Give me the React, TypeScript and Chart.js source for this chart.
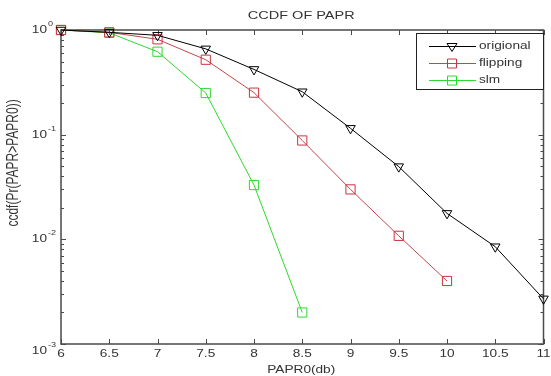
import React, { useEffect, useRef } from 'react';
import { Chart, registerables } from 'chart.js';

Chart.register(...registerables);

// ---- data ----
const papr0 = [6, 6.5, 7, 7.5, 8, 8.5, 9, 9.5, 10, 10.5, 11];
const original = [1.0, 0.95, 0.89, 0.66, 0.42, 0.257, 0.115, 0.0495, 0.0177, 0.0085, 0.0027];
const flipping = [1.0, 0.95, 0.815, 0.52, 0.252, 0.088, 0.03, 0.0108, 0.004];
const slm = [1.0, 0.94, 0.62, 0.25, 0.033, 0.002];
const seriesNames = ['origional', 'flipping', 'slm'];
const xTicks = [6, 6.5, 7, 7.5, 8, 8.5, 9, 9.5, 10, 10.5, 11];
const xTickLabels = ['6', '6.5', '7', '7.5', '8', '8.5', '9', '9.5', '10', '10.5', '11'];
const yDecades = [0, -1, -2, -3];
const titleText = 'CCDF OF PAPR';
const xLabel = 'PAPR0(db)';
const yLabel = 'ccdf(Pr(PAPR>PAPR0))';

const BLACK = '#000000';
const RED = '#d03040';
const RED_LINE = '#c04848';
const GREEN = '#2ed82e';
const AXIS = '#4a4a4a';
const TEXT = '#333333';
const FONT = '"Liberation Sans", Arial, sans-serif';
const SX = 1.3;

function drawText(ctx: CanvasRenderingContext2D, text: string, x: number, y: number, align: CanvasTextAlign, size: number, sx: number) {
  ctx.save();
  ctx.translate(x, y);
  ctx.scale(sx, 1);
  ctx.font = `${size}px ${FONT}`;
  ctx.textAlign = align;
  ctx.textBaseline = 'middle';
  ctx.fillStyle = TEXT;
  ctx.fillText(text, 0, 0);
  ctx.restore();
}

const matlabPlugin = {
  id: 'matlabAxes',
  beforeDatasetsDraw(chart: any) {
    const { ctx, chartArea: a, scales } = chart;
    const x = scales.x;
    const y = scales.y;
    ctx.save();
    ctx.strokeStyle = AXIS;
    ctx.lineWidth = 1.5;
    ctx.strokeRect(a.left, a.top, a.right - a.left, a.bottom - a.top);
    ctx.lineWidth = 1;
    ctx.beginPath();
    for (const v of xTicks) {
      const px = Math.round(x.getPixelForValue(v)) + 0.5;
      ctx.moveTo(px, a.bottom);
      ctx.lineTo(px, a.bottom - 5);
      ctx.moveTo(px, a.top);
      ctx.lineTo(px, a.top + 5);
    }
    for (const d of yDecades) {
      for (let m = 1; m <= 9; m++) {
        const v = m * Math.pow(10, d);
        if (v > 1.0000001 || v < 0.0009999) continue;
        const py = Math.round(y.getPixelForValue(v)) + 0.5;
        const len = m === 1 ? 5 : 3;
        ctx.moveTo(a.left, py);
        ctx.lineTo(a.left + len, py);
        ctx.moveTo(a.right, py);
        ctx.lineTo(a.right - len, py);
      }
    }
    ctx.stroke();
    ctx.restore();
  },
  afterDraw(chart: any) {
    const { ctx, chartArea: a, scales } = chart;
    const x = scales.x;
    const y = scales.y;
    const cx = (a.left + a.right) / 2;
    // title
    drawText(ctx, titleText, cx - 1, 16, 'center', 10, 1.45);
    // x tick labels
    xTicks.forEach((v, i) => {
      drawText(ctx, xTickLabels[i], x.getPixelForValue(v), a.bottom + 10, 'center', 10.5, SX);
    });
    // y tick labels 10^n
    yDecades.forEach((d) => {
      let py = y.getPixelForValue(Math.pow(10, d));
      if (d === -3) py += 7;
      drawText(ctx, '10', a.left - 14, py, 'right', 10.5, SX);
      drawText(ctx, String(d), a.left - 13, py - 6, 'left', 7, SX);
    });
    // axis titles
    drawText(ctx, xLabel, cx - 1, a.bottom + 26, 'center', 10.5, SX);
    ctx.save();
    ctx.translate(14, 163);
    ctx.rotate(-Math.PI / 2);
    ctx.scale(1, SX);
    ctx.font = `12px ${FONT}`;
    ctx.textAlign = 'center';
    ctx.textBaseline = 'middle';
    ctx.fillStyle = TEXT;
    ctx.fillText(yLabel, 0, 0);
    ctx.restore();

    // legend
    const lx = 416, ly = 33, lw = 127, lh = 56;
    ctx.save();
    ctx.fillStyle = '#ffffff';
    ctx.fillRect(lx, ly, lw, lh);
    ctx.strokeStyle = '#222222';
    ctx.lineWidth = 1;
    ctx.strokeRect(lx + 0.5, ly + 0.5, lw, lh);
    const colors = [BLACK, RED, GREEN];
    const lineColors = [BLACK, RED_LINE, GREEN];
    seriesNames.forEach((name, i) => {
      const ry = 46 + i * 17 + 0.5;
      ctx.strokeStyle = lineColors[i];
      ctx.lineWidth = 1;
      ctx.beginPath();
      ctx.moveTo(429, ry);
      ctx.lineTo(476, ry);
      ctx.stroke();
      ctx.strokeStyle = colors[i];
      ctx.beginPath();
      if (i === 0) {
        ctx.moveTo(452 - 5, ry - 3);
        ctx.lineTo(452 + 5, ry - 3);
        ctx.lineTo(452, ry + 5);
        ctx.closePath();
      } else {
        ctx.rect(452 - 4.5, ry - 4.5, 9, 9);
      }
      ctx.stroke();
      drawText(ctx, name, 479, ry, 'left', 10.5, SX);
    });
    ctx.restore();
  },
};

function pts(values: number[]) {
  return values.map((v, i) => ({ x: papr0[i], y: v }));
}

export default function App() {
  const ref = useRef<HTMLCanvasElement | null>(null);
  useEffect(() => {
    if (!ref.current) return;
    const chart = new Chart(ref.current, {
      type: 'line',
      data: {
        datasets: [
          {
            label: seriesNames[0],
            data: pts(original),
            borderColor: BLACK,
            borderWidth: 1,
            pointStyle: 'triangle',
            rotation: 180,
            pointRadius: 5.5,
            pointBorderColor: BLACK,
            pointBackgroundColor: 'rgba(0,0,0,0)',
            pointBorderWidth: 1,
            tension: 0,
            clip: false,
          } as any,
          {
            label: seriesNames[1],
            data: pts(flipping),
            borderColor: RED_LINE,
            borderWidth: 1,
            pointStyle: 'rect',
            pointRadius: 6.5,
            pointBorderColor: RED,
            pointBackgroundColor: 'rgba(0,0,0,0)',
            pointBorderWidth: 1,
            tension: 0,
            clip: false,
          } as any,
          {
            label: seriesNames[2],
            data: pts(slm),
            borderColor: GREEN,
            borderWidth: 1,
            pointStyle: 'rect',
            pointRadius: 6.5,
            pointBorderColor: GREEN,
            pointBackgroundColor: 'rgba(0,0,0,0)',
            pointBorderWidth: 1,
            tension: 0,
            clip: false,
          } as any,
        ],
      },
      options: {
        animation: false,
        responsive: false,
        devicePixelRatio: 1,
        events: [],
        layout: { padding: { top: 30, right: 5, left: 0, bottom: 0 } },
        plugins: { legend: { display: false }, title: { display: false }, tooltip: { enabled: false } },
        scales: {
          x: {
            type: 'linear',
            min: 6,
            max: 11,
            ticks: { display: false },
            grid: { display: false },
            border: { display: false },
            afterFit: (s: any) => { s.height = 32; },
          },
          y: {
            type: 'logarithmic',
            min: 0.001,
            max: 1,
            ticks: { display: false },
            grid: { display: false },
            border: { display: false },
            afterFit: (s: any) => { s.width = 61; },
          },
        },
      } as any,
      plugins: [matlabPlugin],
    });
    return () => chart.destroy();
  }, []);
  return (
    <div style={{ position: 'fixed', left: 0, top: 0, width: 551, height: 376, background: '#fff' }}>
      <canvas ref={ref} width={551} height={376} style={{ display: 'block', width: 551, height: 376 }} />
    </div>
  );
}
